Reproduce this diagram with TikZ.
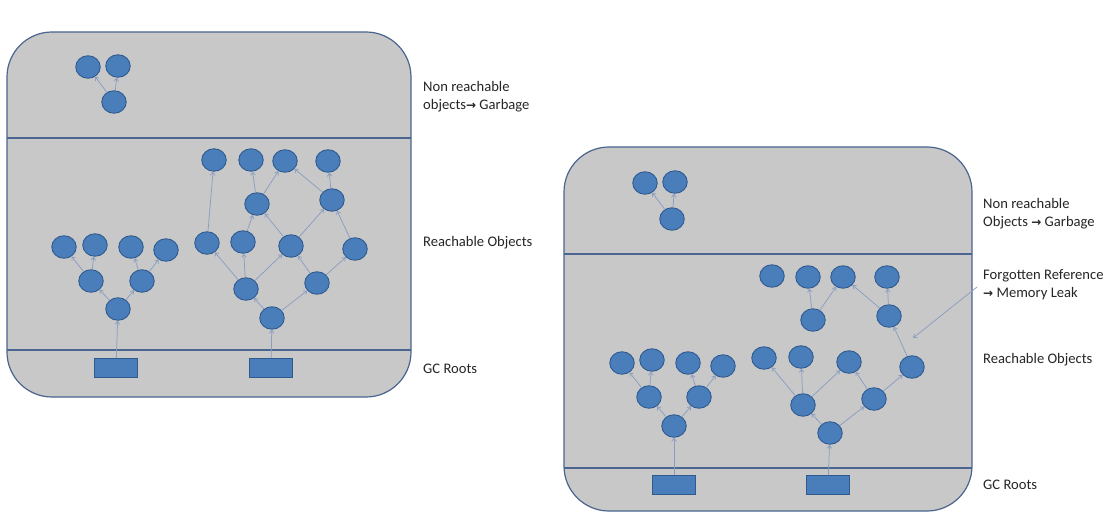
\documentclass[tikz,border=0pt]{standalone}
\usepackage{fontspec}
\setmainfont{Carlito}
\newfontfamily\arrfont{DejaVu Sans}
\usetikzlibrary{shapes.geometric,arrows.meta}
\definecolor{panelfill}{HTML}{C8C8C8}
\definecolor{panelline}{HTML}{4A6590}
\definecolor{objfill}{HTML}{4A7EBB}
\definecolor{objline}{HTML}{2F5A8F}
\definecolor{edgecol}{HTML}{8A9EC2}
\definecolor{txt}{HTML}{262626}
\newcommand{\rarr}{{\arrfont\bfseries\fontsize{12}{18}\selectfont →}}
\begin{document}
\begin{tikzpicture}[x=1pt,y=-1pt,
  obj/.style={ellipse, draw=objline, fill=objfill, line width=0.9pt, minimum width=24.5pt, minimum height=22.5pt, inner sep=0pt},
  rootbox/.style={rectangle, draw=objline, fill=objfill, line width=0.9pt, minimum width=43pt, minimum height=19pt, inner sep=0pt},
  edge/.style={draw=edgecol, line width=0.75pt, -{Straight Barb[length=3pt,width=4.5pt]}},
  panel/.style={draw=panelline, fill=panelfill, line width=1.2pt, rounded corners=45pt},
  divider/.style={draw=panelline, line width=1.4pt},
  lbl/.style={anchor=west, text=txt, font=\fontsize{14.6}{18}\selectfont, align=left, inner sep=0pt}]

\useasboundingbox (0,0) rectangle (1115,513);
\fill[white] (0,0) rectangle (1115,513);

% ---------- Left panel ----------
\draw[panel] (7,32) rectangle (411,397);
\draw[divider] (7,138) -- (411,138);
\draw[divider] (7,350) -- (411,350);

\node[obj] (Lg1) at (88,67) {};
\node[obj] (Lg2) at (118,66) {};
\node[obj] (Lg3) at (114,102) {};

\node[rootbox] (LAr) at (116,368) {};
\node[obj] (LA0) at (118,309) {};
\node[obj] (LA1) at (91,281) {};
\node[obj] (LA2) at (142,281) {};
\node[obj] (LA3) at (64,247) {};
\node[obj] (LA4) at (95,245) {};
\node[obj] (LA5) at (131,247) {};
\node[obj] (LA6) at (166,250) {};

\node[rootbox] (LBr) at (271,368) {};
\node[obj] (LB0) at (272,318) {};
\node[obj] (LB1) at (246,289) {};
\node[obj] (LB2) at (317,283) {};
\node[obj] (LB3) at (207,243) {};
\node[obj] (LB4) at (243,242) {};
\node[obj] (LB5) at (291,246) {};
\node[obj] (LB6) at (355,249) {};
\node[obj] (LB7) at (257,204) {};
\node[obj] (LB8) at (332,200) {};
\node[obj] (LB9) at (214,160) {};
\node[obj] (LB10) at (251,160) {};
\node[obj] (LB11) at (285,161) {};
\node[obj] (LB12) at (328,161) {};

\foreach \a/\b in {Lg3/Lg1, Lg3/Lg2,
  LAr/LA0, LA0/LA1, LA0/LA2, LA1/LA3, LA1/LA4, LA2/LA5, LA2/LA6,
  LBr/LB0, LB0/LB1, LB0/LB2, LB1/LB3, LB1/LB4, LB1/LB5, LB2/LB5, LB2/LB6,
  LB3/LB9, LB4/LB7, LB5/LB7, LB5/LB8, LB6/LB8, LB7/LB10, LB7/LB11, LB8/LB11, LB8/LB12}
  \draw[edge] (\a) -- (\b);

\node[lbl] (tL1) at (423,97) {Non reachable\\objects\rarr\ Garbage};
\node[lbl] (tL2) at (423,243) {Reachable Objects};
\node[lbl] (tL3) at (423,369) {GC Roots};

% ---------- Right panel ----------
\draw[panel] (564,147) rectangle (972,511);
\draw[divider] (564,254) -- (972,254);
\draw[divider] (564,468) -- (972,468);

\node[obj] (Rg1) at (645,183) {};
\node[obj] (Rg2) at (675,182) {};
\node[obj] (Rg3) at (672,219) {};

\node[rootbox] (RAr) at (674,485) {};
\node[obj] (RA0) at (674,426) {};
\node[obj] (RA1) at (649,397) {};
\node[obj] (RA2) at (699,397) {};
\node[obj] (RA3) at (622,363) {};
\node[obj] (RA4) at (652,360) {};
\node[obj] (RA5) at (688,363) {};
\node[obj] (RA6) at (723,366) {};

\node[rootbox] (RBr) at (828,485) {};
\node[obj] (RB0) at (830,433) {};
\node[obj] (RB1) at (803,405) {};
\node[obj] (RB2) at (874,399) {};
\node[obj] (RB3) at (764,358) {};
\node[obj] (RB4) at (801,357) {};
\node[obj] (RB5) at (849,362) {};
\node[obj] (RB6) at (912,367) {};
\node[obj] (RB7) at (813,320) {};
\node[obj] (RB8) at (889,316) {};
\node[obj] (RB9) at (772,276) {};
\node[obj] (RB10) at (808,277) {};
\node[obj] (RB11) at (843,277) {};
\node[obj] (RB12) at (887,277) {};

\foreach \a/\b in {Rg3/Rg1, Rg3/Rg2,
  RAr/RA0, RA0/RA1, RA0/RA2, RA1/RA3, RA1/RA4, RA2/RA5, RA2/RA6,
  RBr/RB0, RB0/RB1, RB0/RB2, RB1/RB3, RB1/RB4, RB1/RB5, RB2/RB5, RB2/RB6,
  RB6/RB8, RB7/RB10, RB7/RB11, RB8/RB11, RB8/RB12}
  \draw[edge] (\a) -- (\b);

\node[lbl] (tR1) at (983,214) {Non reachable\\Objects \rarr\ Garbage};
\node[lbl] (tR2) at (983,284.5) {Forgotten Reference\\\rarr\ Memory Leak};
\node[lbl] (tR3) at (983,360) {Reachable Objects};
\node[lbl] (tR4) at (983,485) {GC Roots};

\coordinate (frs) at (977,287);
\coordinate (frt) at (913,338);
\draw[edge] (frs) -- (frt);
\end{tikzpicture}
\end{document}
